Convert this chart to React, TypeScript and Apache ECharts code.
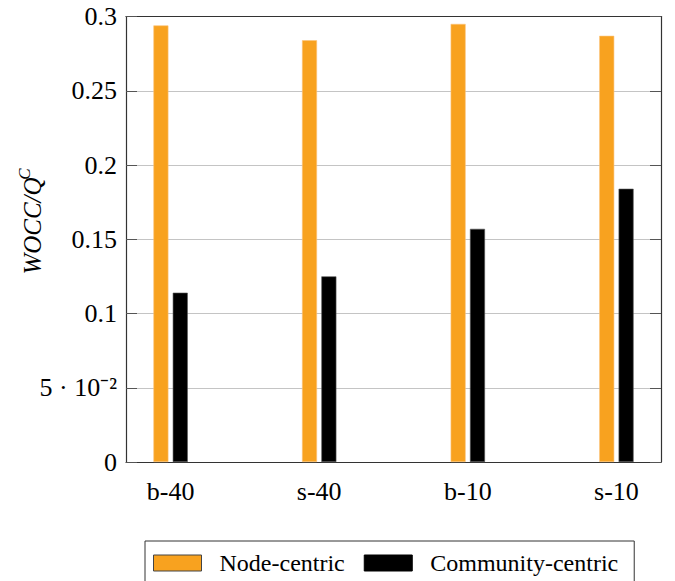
import React, { useEffect, useRef } from "react";
import * as echarts from "echarts";

const categories = ["b-40", "s-40", "b-10", "s-10"];
const nodeCentric = [0.294, 0.284, 0.295, 0.287];
const communityCentric = [0.114, 0.125, 0.157, 0.184];
const yTickLabels = ["0", "5 · 10⁻²", "0.1", "0.15", "0.2", "0.25", "0.3"];
const seriesNames = ["Node-centric", "Community-centric"];
const yTitleMain = "WOCC/Q";
const yTitleSup = "C";

const SERIF = "Liberation Serif";

export default function App() {
  const ref = useRef<HTMLDivElement>(null);
  useEffect(() => {
    document.body.style.margin = "0";
    const chart = echarts.init(ref.current!, null, { renderer: "svg" });
    const axisLineStyle = { color: "#333", width: 1.2 };
    chart.setOption({
      animation: false,
      backgroundColor: "#fff",
      textStyle: { fontFamily: SERIF },
      grid: { left: 126, right: 14, top: 16.5, bottom: 119, containLabel: false, outerBoundsMode: "none" },
      xAxis: [
        {
          type: "value",
          min: -0.3,
          max: 3.3,
          position: "bottom",
          axisLine: { show: true, onZero: false, lineStyle: axisLineStyle },
          axisTick: { show: false },
          splitLine: { show: false },
          axisLabel: {
            customValues: [0, 1, 2, 3],
            formatter: (v: number) => categories[Math.round(v)] ?? "",
            fontFamily: SERIF,
            fontSize: 26,
            color: "#000",
            margin: 16,
          },
        },
        {
          type: "value",
          min: -0.3,
          max: 3.3,
          position: "top",
          axisLine: { show: true, onZero: false, lineStyle: axisLineStyle },
          axisTick: { show: false },
          splitLine: { show: false },
          axisLabel: { show: false },
        },
      ],
      yAxis: [
        {
          type: "value",
          min: 0,
          max: 0.3,
          interval: 0.05,
          position: "left",
          axisLine: { show: true, onZero: false, lineStyle: axisLineStyle },
          axisTick: { show: true, inside: true, length: 11, lineStyle: { color: "#555", width: 1 } },
          splitLine: { show: true, lineStyle: { color: "#c4c4c4", width: 1 } },
          axisLabel: {
            formatter: (v: number) => yTickLabels[Math.round(v / 0.05)] ?? "",
            margin: 9,
            color: "#000",
            fontFamily: SERIF,
            fontSize: 26,
          },
        },
        {
          type: "value",
          min: 0,
          max: 0.3,
          interval: 0.05,
          position: "right",
          axisLine: { show: true, onZero: false, lineStyle: axisLineStyle },
          axisTick: { show: true, inside: true, length: 11, lineStyle: { color: "#555", width: 1 } },
          splitLine: { show: false },
          axisLabel: { show: false },
        },
      ],
      legend: {
        show: true,
        left: 145,
        top: 541,
        orient: "horizontal",
        padding: [10, 16, 10, 8],
        borderColor: "#333",
        borderWidth: 1,
        itemWidth: 48,
        itemHeight: 16,
        itemGap: 19,
        icon: "rect",
        textStyle: { fontFamily: SERIF, fontSize: 24, color: "#000", padding: [0, 0, 0, 13] },
        data: [
          { name: seriesNames[0], itemStyle: { borderColor: "#444", borderWidth: 1 } },
          { name: seriesNames[1], itemStyle: { borderColor: "#000", borderWidth: 1 } },
        ],
      },
      graphic: [
        {
          type: "text",
          x: 32,
          y: 226,
          rotation: Math.PI / 2,
          style: {
            text: yTitleMain,
            align: "center",
            verticalAlign: "middle",
            fill: "#000",
            fontFamily: SERIF,
            fontStyle: "italic",
            fontSize: 25,
          },
        },
        {
          type: "text",
          x: 24,
          y: 174,
          rotation: Math.PI / 2,
          style: {
            text: yTitleSup,
            align: "center",
            verticalAlign: "middle",
            fill: "#000",
            fontFamily: SERIF,
            fontStyle: "italic",
            fontSize: 17,
          },
        },
      ],
      series: [
        {
          name: seriesNames[0],
          type: "bar",
          xAxisIndex: 0,
          yAxisIndex: 0,
          barWidth: 15,
          barGap: "29%",
          itemStyle: { color: "#F8A21F", borderColor: "#FBC27A", borderWidth: 0.6 },
          data: nodeCentric.map((v, i) => [i, v]),
        },
        {
          name: seriesNames[1],
          type: "bar",
          xAxisIndex: 0,
          yAxisIndex: 0,
          barWidth: 15,
          barGap: "29%",
          itemStyle: { color: "#000", borderColor: "#555", borderWidth: 0.6 },
          data: communityCentric.map((v, i) => [i, v]),
        },
      ],
    });
    return () => chart.dispose();
  }, []);
  return <div ref={ref} style={{ width: 675, height: 581 }} />;
}
